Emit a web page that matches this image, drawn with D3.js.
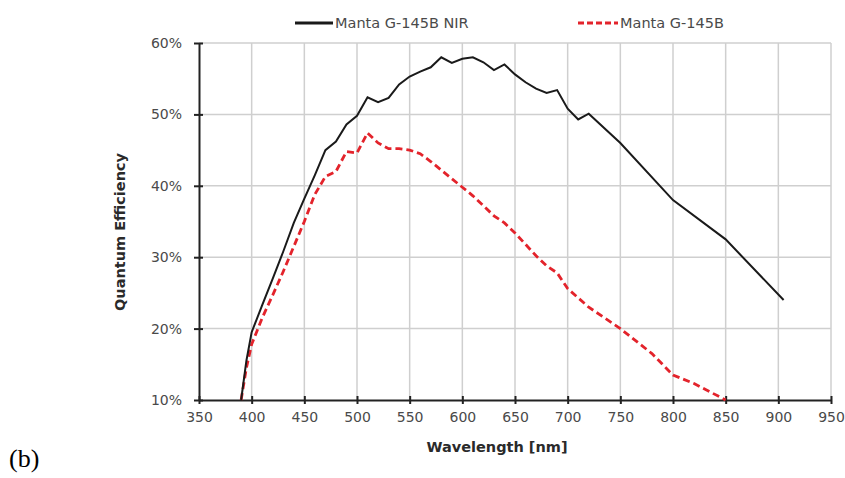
<!DOCTYPE html>
<html>
<head>
<meta charset="utf-8">
<script src="https://cdn.jsdelivr.net/npm/d3@7/dist/d3.min.js"></script>
<style>
  html, body { margin: 0; padding: 0; background: #fff; }
  svg { display: block; }
  .tick text { font-family: "DejaVu Sans", sans-serif; }
</style>
</head>
<body>
<svg id="chart" width="845" height="478"></svg>
<script>
// ---- data ----
const nirWavelength = [390,395,400,410,420,430,440,450,460,470,480,490,500,510,520,530,540,550,560,570,580,590,600,610,620,630,640,650,660,670,680,690,700,710,720,750,800,850,905];
const nirQE =         [10,15.5,19.5,23.3,27,30.8,34.8,38.2,41.5,45,46.2,48.6,49.8,52.4,51.7,52.3,54.2,55.3,56,56.6,58,57.2,57.8,58,57.3,56.2,57,55.6,54.5,53.6,53,53.4,50.8,49.3,50.1,46,38,32.5,24];
const stdWavelength = [390,395,400,410,420,430,440,450,460,470,480,490,500,510,520,530,540,550,560,570,580,590,600,610,620,630,640,650,660,670,680,690,700,710,720,750,780,800,820,850];
const stdQE =         [10,14.5,17.8,21.5,24.7,28,31.5,35,38.8,41.3,42,44.8,44.6,47.4,46,45.2,45.2,45,44.5,43.4,42.2,41,39.8,38.6,37.2,35.8,34.8,33.4,31.8,30.2,28.8,27.8,25.6,24.3,23,20,16.5,13.5,12.3,10];
const seriesNames = ["Manta G-145B NIR", "Manta G-145B"];
const xTicks = [350,400,450,500,550,600,650,700,750,800,850,900,950];
const yTicks = [10,20,30,40,50,60];

// ---- layout ----
const svg = d3.select("#chart");
const pLeft = 199, pRight = 831, pTop = 43, pBottom = 400;
const font = '"DejaVu Sans", sans-serif';
const x = d3.scaleLinear().domain([350, 950]).range([pLeft, pRight]);
const y = d3.scaleLinear().domain([10, 60]).range([pBottom, pTop]);

// grid
svg.append("g").selectAll("line").data(xTicks.slice(1)).join("line")
  .attr("x1", d => x(d)).attr("x2", d => x(d)).attr("y1", pTop).attr("y2", pBottom)
  .attr("stroke", "#cfcfcf").attr("stroke-width", 1.5);
svg.append("g").selectAll("line").data(yTicks.slice(1)).join("line")
  .attr("x1", pLeft).attr("x2", pRight).attr("y1", d => y(d)).attr("y2", d => y(d))
  .attr("stroke", "#cfcfcf").attr("stroke-width", 1.5);

// axes
const xAxis = d3.axisBottom(x).tickValues(xTicks).tickSizeInner(4).tickSizeOuter(0).tickPadding(8);
const gx = svg.append("g").attr("transform", `translate(0,${pBottom})`).call(xAxis);
gx.select(".domain").attr("stroke", "#222").attr("stroke-width", 2);
gx.selectAll(".tick line").attr("stroke", "#222").attr("stroke-width", 2).attr("y1", -4);
gx.selectAll(".tick text").attr("font-size", 14).attr("fill", "#4a4a4a");

const yAxis = d3.axisLeft(y).tickValues(yTicks).tickFormat(d => d + "%").tickSizeInner(4).tickSizeOuter(0).tickPadding(13);
const gy = svg.append("g").attr("transform", `translate(${pLeft},0)`).call(yAxis);
gy.select(".domain").attr("stroke", "#222").attr("stroke-width", 2);
gy.selectAll(".tick line").attr("stroke", "#222").attr("stroke-width", 2).attr("x2", 4).attr("x1", -5);
gy.selectAll(".tick text").attr("font-size", 14).attr("fill", "#4a4a4a");

// lines
const line = d3.line().x(d => x(d[0])).y(d => y(d[1]));
svg.append("path").datum(d3.zip(stdWavelength, stdQE)).attr("d", line)
  .attr("fill", "none").attr("stroke", "#e3232b").attr("stroke-width", 2.8)
  .attr("stroke-dasharray", "7,4");
svg.append("path").datum(d3.zip(nirWavelength, nirQE)).attr("d", line)
  .attr("fill", "none").attr("stroke", "#1a1a1a").attr("stroke-width", 2);

// axis titles
svg.append("text").attr("x", 497).attr("y", 452).attr("text-anchor", "middle")
  .attr("font-family", font).attr("font-weight", "bold").attr("font-size", 14.5).attr("fill", "#2a2a2a")
  .text("Wavelength [nm]");
svg.append("text").attr("transform", `translate(125,232) rotate(-90)`).attr("text-anchor", "middle")
  .attr("font-family", font).attr("font-weight", "bold").attr("font-size", 14.5).attr("fill", "#2a2a2a")
  .text("Quantum Efficiency");

// legend
const legend = [
  {name: seriesNames[0], color: "#1a1a1a", dash: null, x1: 295, x2: 333, tx: 335},
  {name: seriesNames[1], color: "#e3232b", dash: "6,3", x1: 578, x2: 618, tx: 620}
];
legend.forEach(l => {
  svg.append("line").attr("x1", l.x1).attr("x2", l.x2).attr("y1", 23).attr("y2", 23)
    .attr("stroke", l.color).attr("stroke-width", 3).attr("stroke-dasharray", l.dash);
  svg.append("text").attr("x", l.tx).attr("y", 28).attr("font-family", font)
    .attr("font-size", 14.5).attr("fill", "#4a4a4a").text(l.name);
});

// panel label
svg.append("text").attr("x", 9).attr("y", 467).attr("font-family", '"Liberation Serif", serif')
  .attr("font-size", 26).attr("fill", "#000").text("(b)");
</script>
</body>
</html>
